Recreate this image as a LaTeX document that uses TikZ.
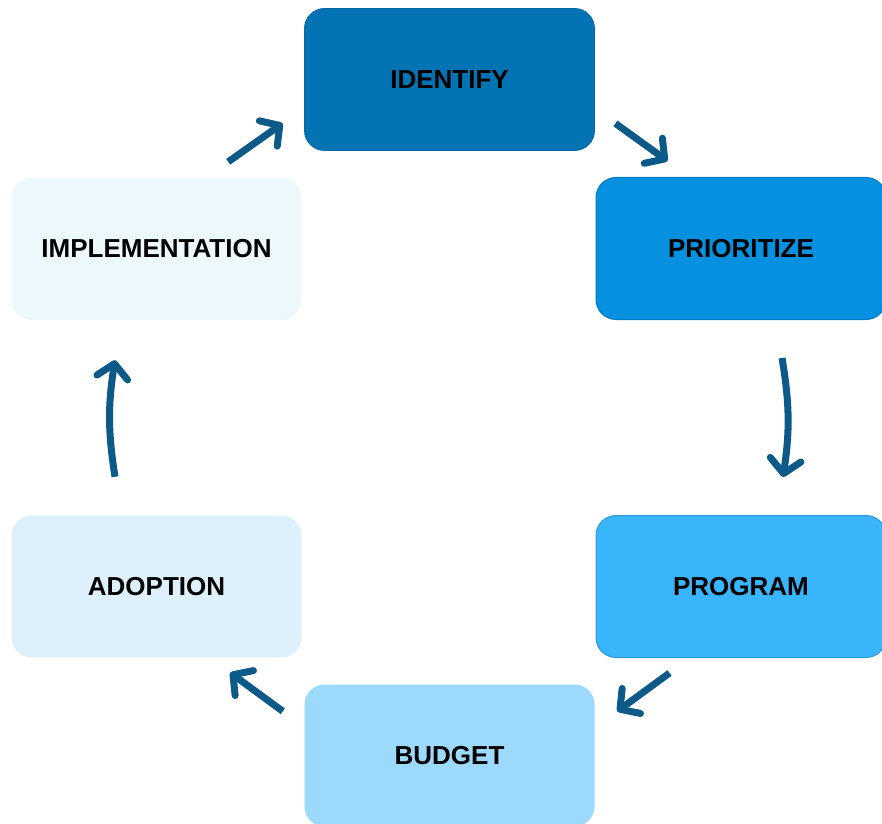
\documentclass[tikz,border=0pt]{standalone}
\usepackage{fontspec}
\setmainfont{Liberation Sans}
\usetikzlibrary{calc,arrows.meta}
\definecolor{cidentify}{HTML}{0473B3}
\definecolor{cprioritize}{HTML}{0591E0}
\definecolor{cprogram}{HTML}{38B5FB}
\definecolor{cbudget}{HTML}{9CD9FB}
\definecolor{cadoption}{HTML}{DDF0FC}
\definecolor{cimplement}{HTML}{EDF8FD}
\definecolor{carrow}{HTML}{0D5A88}
\begin{document}
\begin{tikzpicture}[x=1pt,y=1pt,
  stagebox/.style={rectangle,rounded corners=20pt,minimum width=290pt,minimum height=142pt,
    inner sep=0pt,font=\fontsize{26}{30}\selectfont\bfseries,text=black},
  flow/.style={carrow,line width=7pt,-{Straight Barb[length=14pt,width=31pt,round]}}]
  \useasboundingbox (0,0) rectangle (882,823);
  \node (identify) at (449.5,743.5)[stagebox,fill=cidentify,draw=cidentify!90!black,line width=0.8pt]{IDENTIFY};
         \node (prioritize) at (741,574.5)[stagebox,fill=cprioritize,draw=cprioritize!85!black,line width=1pt]{PRIORITIZE};
         \node (program) at (741,236.5)[stagebox,fill=cprogram,draw=cprogram!85!black,line width=1pt]{PROGRAM};
         \node (budget) at (449.5,67.5)[stagebox,fill=cbudget]{BUDGET};
         \node (adoption) at (156.5,236.5)[stagebox,fill=cadoption]{ADOPTION};
         \node (implementation) at (156.5,574)[stagebox,fill=cimplement]{IMPLEMENTATION};
         \draw [flow] ($(identify.south east)+(20.5,27.5)$) -- ($(prioritize.north west)+(72,16)$);
         \draw [flow] ($(prioritize.south)+(41,-38)$) to[bend left=9] ($(program.north)+(42,38)$);
         \draw [flow] ($(program.south west)+(74,-15)$) -- ($(budget.north east)+(22.5,-27)$);
         \draw [flow] ($(budget.north west)+(-21.5,-27)$) -- ($(adoption.south east)+(-71.5,-15)$);
         \draw [flow] ($(adoption.north)+(-41.5,38.5)$) to[bend left=9] ($(implementation.south)+(-41.5,-40)$);
         \draw [flow] ($(implementation.north east)+(-73.5,16)$) -- ($(identify.south west)+(-21.5,27.5)$);
    \end{tikzpicture}
\end{document}
